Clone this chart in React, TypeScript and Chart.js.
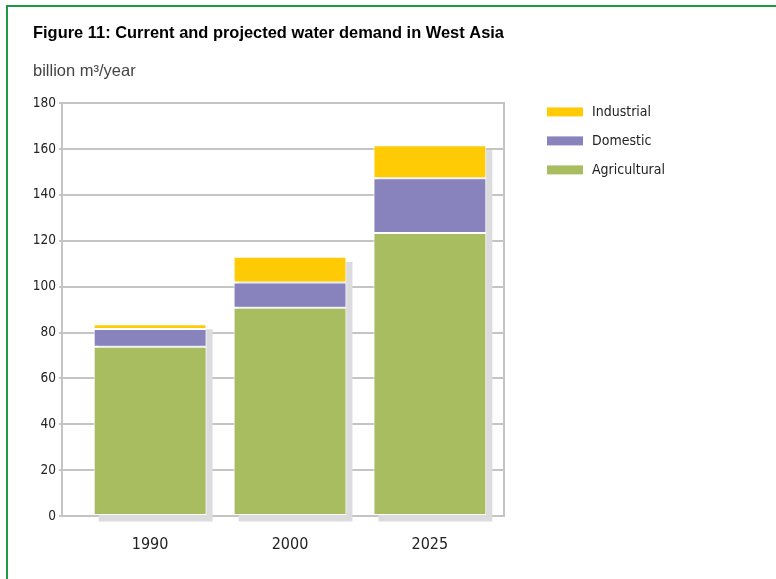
import React, { useEffect, useRef } from "react";
import { Chart, registerables } from "chart.js";

Chart.register(...registerables);

const years = ["1990", "2000", "2025"];
const seriesNames = ["Agricultural", "Domestic", "Industrial"];
const agricultural = [73.8, 90.8, 123.4];
const domestic = [7.7, 11.0, 23.9];
const industrial = [2.1, 11.2, 14.4];
const seriesColors = ["#a7bd5f", "#8983bd", "#ffcb05"];

const narrow = "'Liberation Sans Narrow', 'DejaVu Sans Condensed', 'Roboto', sans-serif";
const gridGray = "#c4c4c4";

export default function App() {
  const ref = useRef<HTMLCanvasElement>(null);

  useEffect(() => {
    if (!ref.current) return;

    const shadowPlugin = {
      id: "barShadow",
      beforeDatasetsDraw(chart: any) {
        const ctx = chart.ctx;
        const n = chart.data.datasets.length;
        const first = chart.getDatasetMeta(0).data;
        const last = chart.getDatasetMeta(n - 1).data;
        ctx.save();
        ctx.fillStyle = "#dcdcde";
        first.forEach((el: any, i: number) => {
          const p = el.getProps(["x", "y", "base", "width"], true);
          const t = last[i].getProps(["y"], true);
          const left = p.x - p.width / 2;
          ctx.fillRect(left + 5, t.y + 5, p.width + 1, p.base - t.y + 1.5);
        });
        ctx.restore();
      },
    };

    const legendPlugin = {
      id: "sideLegend",
      afterDraw(chart: any) {
        const { ctx, chartArea } = chart;
        const ds = chart.data.datasets;
        ctx.save();
        ctx.font = `14px ${narrow}`;
        ctx.textBaseline = "middle";
        ctx.textAlign = "left";
        for (let k = 0; k < ds.length; k++) {
          const d = ds[ds.length - 1 - k];
          const cy = chartArea.top + 8.7 + k * 29;
          ctx.fillStyle = d.backgroundColor;
          ctx.fillRect(chartArea.right + 43, cy - 4.5, 36, 9);
          ctx.fillStyle = "#222";
          ctx.fillText(d.label, chartArea.right + 88, cy);
        }
        ctx.restore();
      },
    };

    const valueSets = [agricultural, domestic, industrial];

    const chart = new Chart(ref.current, {
      type: "bar",
      data: {
        datasets: valueSets.map((vals, s) => ({
          label: seriesNames[s],
          data: vals.map((v, i) => ({ x: i, y: v })),
          backgroundColor: seriesColors[s],
        })),
      },
      options: {
        responsive: false,
        animation: false,
        layout: { padding: { left: 33, right: 272, top: 23, bottom: 0 } },
        datasets: {
          bar: {
            categoryPercentage: 1,
            barPercentage: 0.807,
            borderColor: "#ffffff",
            borderWidth: 1,
            borderSkipped: false,
          },
        },
        plugins: {
          legend: { display: false },
          tooltip: { enabled: false },
          title: {
            display: true,
            text: "Figure 11: Current and projected water demand in West Asia",
            align: "start",
            color: "#000",
            font: { family: "'Liberation Sans', Arial, sans-serif", size: 17, weight: "bold" },
            padding: { top: 0, bottom: 18 },
          },
          subtitle: {
            display: true,
            text: "billion m³/year",
            align: "start",
            color: "#444",
            font: { family: "'Liberation Sans', Arial, sans-serif", size: 16.5 },
            padding: { top: 0, bottom: 22 },
          },
        },
        scales: {
          x: {
            type: "linear",
            stacked: true,
            offset: false,
            min: -0.63,
            max: 2.53,
            grid: { display: false, drawTicks: false, offset: false },
            border: { display: true, color: gridGray, width: 2 },
            afterBuildTicks: (s: any) => {
              s.ticks = s.ticks.filter((t: any) => Number.isInteger(t.value));
            },
            ticks: {
              stepSize: 1,
              padding: 19,
              autoSkip: false,
              maxRotation: 0,
              color: "#222",
              font: { family: narrow, size: 16 },
              callback: (v: any) => (Number.isInteger(v) && years[v] !== undefined ? years[v] : ""),
            },
            afterFit: (s: any) => {
              s.height = 63;
            },
          },
          y: {
            stacked: true,
            min: 0,
            max: 180,
            ticks: { stepSize: 20, padding: 3, color: "#222", font: { family: narrow, size: 13.5 } },
            grid: { color: gridGray, lineWidth: 2, tickLength: 3 },
            border: { color: gridGray, width: 2 },
            afterFit: (s: any) => {
              s.width = 29;
            },
          },
          y2: {
            position: "right",
            min: 0,
            max: 180,
            ticks: { display: false },
            grid: { drawOnChartArea: false, drawTicks: false },
            border: { color: gridGray, width: 2 },
            afterFit: (s: any) => {
              s.width = 0;
            },
          },
        },
      } as any,
      plugins: [shadowPlugin, legendPlugin],
    });

    return () => chart.destroy();
  }, []);

  return (
    <>
      <div
        style={{
          position: "fixed",
          left: 6,
          top: 5,
          width: 900,
          height: 700,
          border: "2px solid #1b9a41",
          boxSizing: "border-box",
        }}
      />
      <canvas
        ref={ref}
        width={776}
        height={579}
        style={{ position: "fixed", left: 0, top: 0, width: 776, height: 579 }}
      />
    </>
  );
}
